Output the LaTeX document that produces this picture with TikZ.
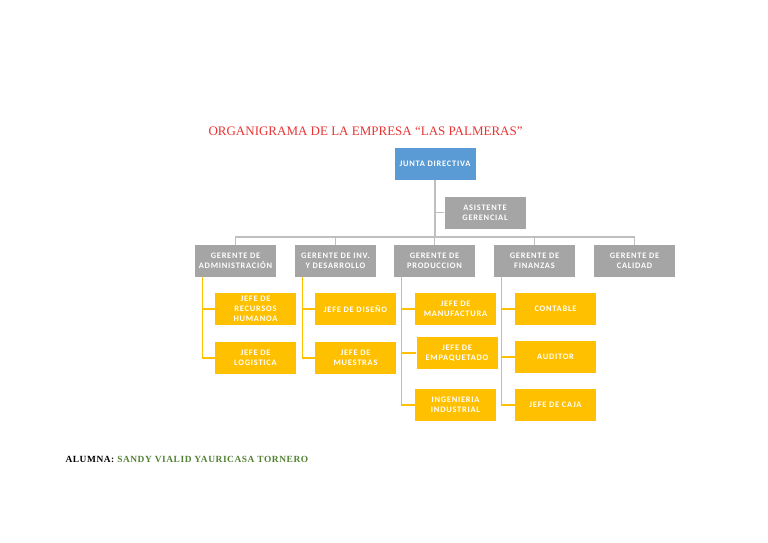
\documentclass[tikz,border=0pt]{standalone}
\usepackage{fontspec}
\setmainfont{Liberation Serif}
\newfontfamily\boxfont[LetterSpace=9]{Carlito}
\newfontfamily\alumnafont[LetterSpace=6]{Liberation Serif}
\definecolor{jefeazul}{RGB}{91,155,213}
\definecolor{gerentegris}{RGB}{165,165,165}
\definecolor{jefeamarillo}{RGB}{255,192,0}
\definecolor{lineagris}{RGB}{191,191,191}
\definecolor{titulorojo}{RGB}{232,52,52}
\definecolor{alumnaverde}{RGB}{84,130,53}
\begin{document}
\begin{tikzpicture}[
    x=1pt, y=-1pt,
    caja/.style={minimum width=81pt, minimum height=32pt, inner sep=0pt,
        text=white, align=center, font=\boxfont\bfseries\fontsize{8.4}{10}\selectfont},
    junta/.style={caja, fill=jefeazul},
    gerente/.style={caja, fill=gerentegris},
    jefe/.style={caja, fill=jefeamarillo},
    linea/.style={draw=lineagris, line width=1.3pt},
    lineaj/.style={draw=jefeamarillo, line width=1.3pt}
]
    \useasboundingbox (0,0) rectangle (768,543);

    % --- 1. Titulo ---
    \node[text=titulorojo, font=\fontsize{13}{15}\selectfont, anchor=west] (titulo) at (205,131)
        {ORGANIGRAMA DE LA EMPRESA “LAS PALMERAS”};

    % --- 2. Nivel superior ---
    \node[junta] (jd) at (435,163.5) {JUNTA DIRECTIVA};
    \node[gerente] (as) at (485,212.5) {ASISTENTE\\GERENCIAL};
    \coordinate (hub) at (435,237);

    % --- 3. Gerentes ---
    \node[gerente] (adm) at (235.5,261) {GERENTE DE\\ADMINISTRACIÓN};
    \node[gerente] (inv) at (335.5,261) {GERENTE DE INV.\\Y DESARROLLO};
    \node[gerente] (pro) at (434.5,261) {GERENTE DE\\PRODUCCION};
    \node[gerente] (fin) at (534.5,261) {GERENTE DE\\FINANZAS};
    \node[gerente] (cal) at (634.5,261) {GERENTE DE\\CALIDAD};

    % --- 4. Jefes ---
    \node[jefe] (rh)  at (255.5,309) {JEFE DE\\RECURSOS\\HUMANOA};
    \node[jefe] (log) at (255.5,358) {JEFE DE\\LOGISTICA};
    \node[jefe] (dis) at (355.5,309) {JEFE DE DISEÑO};
    \node[jefe] (mue) at (355.5,358) {JEFE DE\\MUESTRAS};
    \node[jefe] (man) at (455.5,309) {JEFE DE\\MANUFACTURA};
    \node[jefe] (emp) at (457,353) {JEFE DE\\EMPAQUETADO};
    \node[jefe] (ing) at (455.5,405) {INGENIERIA\\INDUSTRIAL};
    \node[jefe] (con) at (555.5,309) {CONTABLE};
    \node[jefe] (aud) at (555.5,357) {AUDITOR};
    \node[jefe] (caj) at (555.5,405) {JEFE DE CAJA};

    % --- 5. Conectores ---
    \draw[linea] (jd.south) -- (hub);
    \draw[linea] (jd.south) |- (as.west);
    \foreach \g in {adm,inv,pro,fin,cal}
        \draw[linea] (hub) -| (\g.north);

    \draw[lineaj] ([xshift=8pt]adm.south west) |- (rh.west);
    \draw[lineaj] ([xshift=8pt]adm.south west) |- (log.west);
    \draw[lineaj] ([xshift=8pt]inv.south west) |- (dis.west);
    \draw[lineaj] ([xshift=8pt]inv.south west) |- (mue.west);
    \draw[lineaj] ([xshift=8pt]pro.south west) |- (man.west);
    \draw[lineaj] ([xshift=8pt]pro.south west) |- (emp.west);
    \draw[lineaj] ([xshift=8pt]pro.south west) |- (ing.west);
    \draw[lineaj] ([xshift=8pt]fin.south west) |- (con.west);
    \draw[lineaj] ([xshift=8pt]fin.south west) |- (aud.west);
    \draw[lineaj] ([xshift=8pt]fin.south west) |- (caj.west);

    % --- 6. Alumna ---
    \node[anchor=west, font=\alumnafont\bfseries\fontsize{9.4}{10}\selectfont] (alumna) at (62,459)
        {ALUMNA: \textcolor{alumnaverde}{SANDY VIALID YAURICASA TORNERO}};

\end{tikzpicture}
\end{document}
